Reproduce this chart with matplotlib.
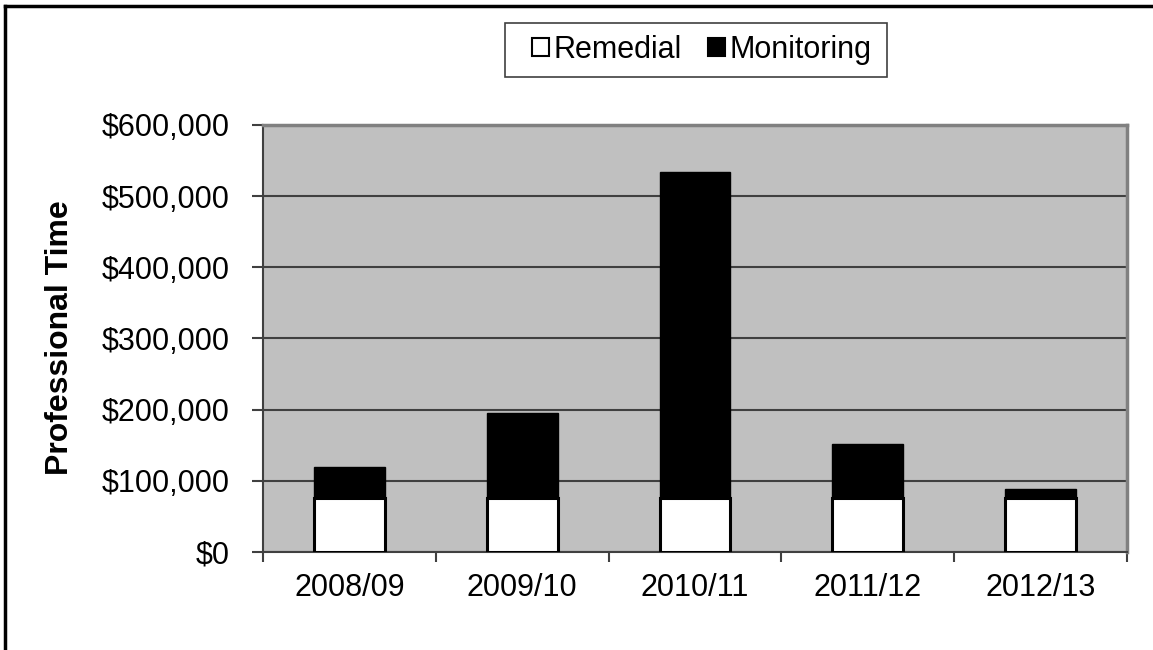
import matplotlib
matplotlib.use("Agg")
import matplotlib.pyplot as plt
from matplotlib.patches import Rectangle
from matplotlib.lines import Line2D
from matplotlib.ticker import FuncFormatter
import numpy as np

plt.rcParams["font.family"] = ["Liberation Sans", "DejaVu Sans"]

years = ["2008/09", "2009/10", "2010/11", "2011/12", "2012/13"]
remedial = [76000, 76000, 76000, 76000, 76000]
monitoring_total = [120000, 195000, 534000, 152000, 89000]
monitoring = [t - r for t, r in zip(monitoring_total, remedial)]

FS = 22

fig = plt.figure(figsize=(11.53, 6.5), dpi=100)
ax = fig.add_axes([0.2281, 0.1508, 0.7493, 0.6569])
ax.set_facecolor("#c0c0c0")

x = np.arange(len(years))
w = 0.41
ax.bar(x, remedial, w, color="white", edgecolor="black", linewidth=2.2, label="Remedial", zorder=3)
ax.bar(x, monitoring, w, bottom=remedial, color="black", edgecolor="black",
       linewidth=1, label="Monitoring", zorder=3)

ax.set_xlim(-0.5, len(years) - 0.5)
ax.set_ylim(0, 600000)
ax.set_yticks(np.arange(0, 600001, 100000))
ax.yaxis.set_major_formatter(FuncFormatter(lambda v, p: f"${v:,.0f}"))
ax.set_xticks(x)
ax.set_xticklabels(years)
ax.set_xticks(np.arange(-0.5, len(years)), minor=True)
ax.tick_params(axis="x", which="major", length=0, pad=15, labelsize=FS)
ax.tick_params(axis="x", which="minor", length=7, width=1.5, color="#404040")
ax.tick_params(axis="y", length=8, width=1.5, color="#404040", labelsize=FS, pad=16)
ax.yaxis.grid(True, color="#404040", linewidth=1.5, zorder=1)
ax.set_axisbelow(True)
for s in ["left", "bottom"]:
    ax.spines[s].set_color("#404040")
    ax.spines[s].set_linewidth(1.5)
for s in ["top", "right"]:
    ax.spines[s].set_color("#808080")
    ax.spines[s].set_linewidth(2.5)

fig.text(0.052, 0.48, "Professional Time", rotation=90, fontsize=23,
         fontweight="bold", ha="center", va="center")

# legend (frame drawn separately, it is wider than it is tall)
leg = fig.legend(loc="center", bbox_to_anchor=(0.6088, 0.923), ncol=2, fontsize=FS,
                 frameon=False, handlelength=0.55, handleheight=0.55,
                 handletextpad=0.15, columnspacing=0.85, borderpad=0)
for h in leg.legend_handles:
    h.set_linewidth(1.5)
    h.set_edgecolor("black")
fig.patches.append(Rectangle((0.438, 0.8815), 0.3313, 0.0831, transform=fig.transFigure,
                             fill=False, edgecolor="#404040", linewidth=1.2))

# outer border: only top and left are inside the picture
fig.lines.append(Line2D([0.0045, 0.0045], [0.0, 0.991], transform=fig.transFigure,
                        color="black", linewidth=2.5))
fig.lines.append(Line2D([0.0045, 1.0], [0.991, 0.991], transform=fig.transFigure,
                        color="black", linewidth=2.5))

fig.savefig("out.png", dpi=100)
